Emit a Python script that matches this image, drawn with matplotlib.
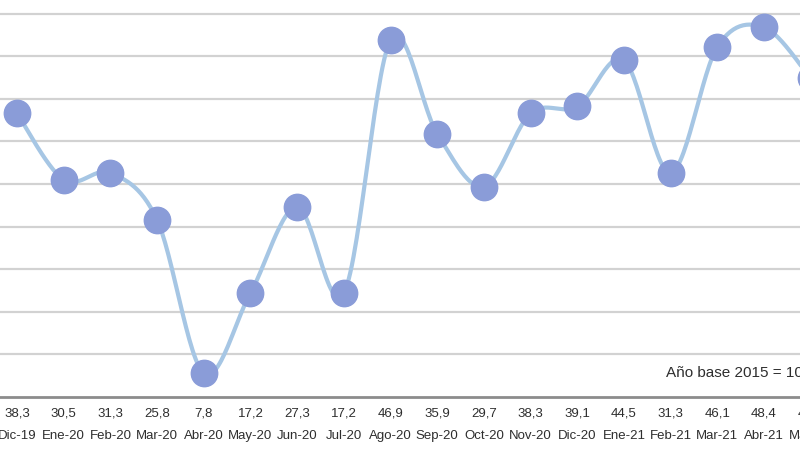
import numpy as np
import matplotlib
matplotlib.use('Agg')
import matplotlib.pyplot as plt
import matplotlib.transforms as mtransforms

months = ['Dic-19', 'Ene-20', 'Feb-20', 'Mar-20', 'Abr-20', 'May-20', 'Jun-20',
          'Jul-20', 'Ago-20', 'Sep-20', 'Oct-20', 'Nov-20', 'Dic-20', 'Ene-21',
          'Feb-21', 'Mar-21', 'Abr-21', 'May-21']
values = [38.3, 30.5, 31.3, 25.8, 7.8, 17.2, 27.3, 17.2, 46.9, 35.9, 29.7,
          38.3, 39.1, 44.5, 31.3, 46.1, 48.4, 42.4]
note = 'Año base 2015 = 100'

line_color = '#A6C6E4'
marker_color = '#8A9CD8'
grid_color = '#D2D2D2'
text_color = '#2E2E2E'

plt.rcParams['font.family'] = ['Liberation Sans', 'DejaVu Sans']


def smooth_curve(xs, ys, n=30):
    # Catmull-Rom like Excel's smoothed line (bezier handles = 1/6 of neighbour span)
    px = np.concatenate([[xs[0]], xs, [xs[-1]]])
    py = np.concatenate([[ys[0]], ys, [ys[-1]]])
    out_x, out_y = [], []
    t = np.linspace(0, 1, n)
    for i in range(1, len(px) - 2):
        p0x, p1x, p2x, p3x = px[i - 1], px[i], px[i + 1], px[i + 2]
        p0y, p1y, p2y, p3y = py[i - 1], py[i], py[i + 1], py[i + 2]
        c1x = p1x + (p2x - p0x) / 6.0
        c1y = p1y + (p2y - p0y) / 6.0
        c2x = p2x - (p3x - p1x) / 6.0
        c2y = p2y - (p3y - p1y) / 6.0
        bx = ((1 - t) ** 3 * p1x + 3 * (1 - t) ** 2 * t * c1x
              + 3 * (1 - t) * t ** 2 * c2x + t ** 3 * p2x)
        by = ((1 - t) ** 3 * p1y + 3 * (1 - t) ** 2 * t * c1y
              + 3 * (1 - t) * t ** 2 * c2y + t ** 3 * p2y)
        out_x.extend(bx)
        out_y.extend(by)
    return np.array(out_x), np.array(out_y)


x = np.arange(len(values))
y = np.array(values)

fig = plt.figure(figsize=(8, 4.5), dpi=100)
ax = fig.add_axes([0, 53 / 450, 1, 397 / 450])

for g in range(10, 55, 5):
    ax.axhline(g, color=grid_color, lw=1.6, zorder=1)

sx, sy = smooth_curve(x.astype(float), y)
ax.plot(sx, sy, color=line_color, lw=3, zorder=2, solid_capstyle='round')
ax.plot(x, y, 'o', ms=19, color=marker_color, mec=marker_color, zorder=3)

ax.set_xlim(-0.364, 16.77)
ax.set_ylim(5, 51.6)
for s in ['top', 'left', 'right']:
    ax.spines[s].set_visible(False)
ax.spines['bottom'].set_color('#8C8C8C')
ax.spines['bottom'].set_linewidth(2)
ax.set_xticks([])
ax.set_yticks([])

# value row and month row under the axis
trans = mtransforms.blended_transform_factory(ax.transData, ax.transAxes)
for i, (m, v) in enumerate(zip(months, values)):
    ax.text(i, -16 / 397, ('%.1f' % v).replace('.', ','), transform=trans,
            ha='center', va='center', fontsize=9.5, color=text_color, clip_on=False)
    ax.text(i, -39 / 397, m, transform=trans, ha='center', va='center',
            fontsize=9.5, color=text_color, clip_on=False)

fig.text(666 / 800, 1 - 373 / 450, note, ha='left', va='center',
         fontsize=11, color=text_color)

fig.savefig('out.png', dpi=100, facecolor='white')
plt.close()
